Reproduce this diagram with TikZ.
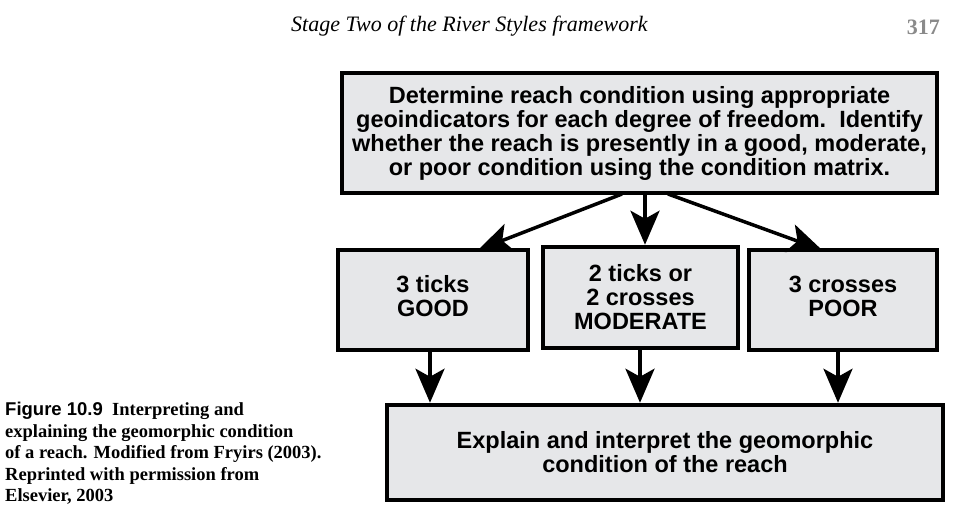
\documentclass[tikz,border=0pt]{standalone}
\usepackage{fontspec}
\setmainfont{Liberation Serif}
\setsansfont{Liberation Sans}
\usetikzlibrary{arrows.meta}
\definecolor{boxfill}{HTML}{E6E7E9}
\definecolor{pagegray}{HTML}{8A8A8A}
\begin{document}
\begin{tikzpicture}[x=1pt,y=-1pt,
  flowbox/.style={draw=black, line width=4.5pt, fill=boxfill, align=center,
    font=\sffamily\bfseries\fontsize{23.5}{24}\selectfont, inner sep=0pt},
  flowarrow/.style={line width=3.5pt, -{Stealth[length=34pt,width=29pt,inset=8pt]}}]
\useasboundingbox (0,0) rectangle (958,527);
% header
\node[anchor=base west, font=\itshape\fontsize{22}{24}\selectfont, inner sep=0pt] (head) at (291,32) {Stage Two of the River Styles framework};
\node[anchor=base east, font=\bfseries\fontsize{22}{24}\selectfont, text=pagegray, inner sep=0pt] (page) at (940,35) {317};
% boxes
\node[flowbox, minimum width=595pt, minimum height=120pt] (top) at (639.5,133) {Determine reach condition using appropriate\\geoindicators for each degree of freedom.\ \ Identify\\whether the reach is presently in a good, moderate,\\or poor condition using the condition matrix.};
\node[flowbox, minimum width=190pt, minimum height=100pt] (good) at (433,300) {\raisebox{4pt}{\begin{tabular}{@{}c@{}}3 ticks\\GOOD\end{tabular}}};
\node[flowbox, minimum width=195pt, minimum height=101pt] (mod) at (640.5,297.5) {2 ticks or\\2 crosses\\MODERATE};
\node[flowbox, minimum width=188pt, minimum height=100pt] (poor) at (843,300) {\raisebox{3pt}{\begin{tabular}{@{}c@{}}3 crosses\\POOR\end{tabular}}};
\node[flowbox, minimum width=556pt, minimum height=95pt] (bot) at (665,452.5) {Explain and interpret the geomorphic\\condition of the reach};
% arrows
\coordinate (tl) at (622,194);
\coordinate (tr) at (668,194);
\coordinate (tc) at (645,194);
\coordinate (gl) at (478,250);
\coordinate (pr) at (822,250);
\draw[flowarrow] (tl) -- (gl);
\draw[flowarrow] (tc) -- (tc |- mod.north);
\draw[flowarrow] (tr) -- (pr);
\draw[flowarrow] (good.south -| 430,0) -- (bot.north -| 430,0);
\draw[flowarrow] (mod.south -| 640,0) -- (bot.north -| 640,0);
\draw[flowarrow] (poor.south -| 838,0) -- (bot.north -| 838,0);
% caption
\node[anchor=north west, align=left, inner sep=0pt, font=\fontsize{18.5}{21.5}\selectfont] (cap) at (5,402) {{\sffamily\bfseries Figure 10.9}\ \ \textbf{Interpreting and}\\\textbf{explaining the geomorphic condition}\\\textbf{of a reach. Modified from Fryirs (2003).}\\\textbf{Reprinted with permission from}\\\textbf{Elsevier, 2003}};
\end{tikzpicture}
\end{document}
